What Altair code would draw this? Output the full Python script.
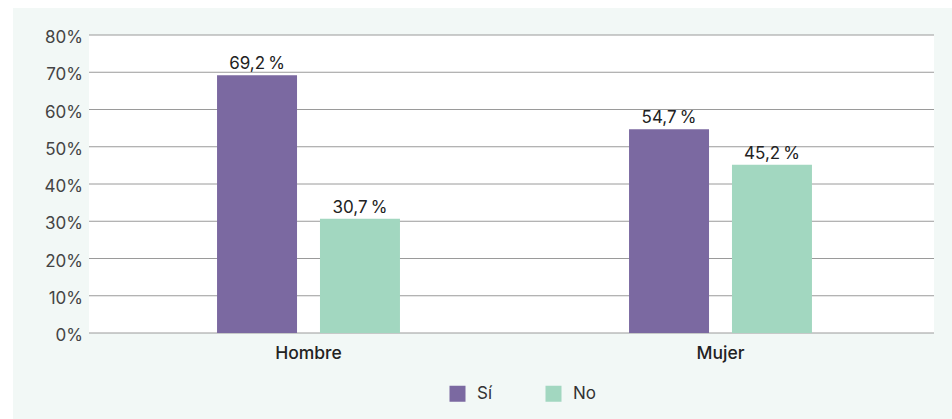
import altair as alt
import pandas as pd

# Respuestas por sexo (porcentaje)
sexos = ["Hombre", "Hombre", "Mujer", "Mujer"]
respuestas = ["Sí", "No", "Sí", "No"]
porcentajes = [69.2, 30.7, 54.7, 45.2]

categorias = ["Hombre", "Mujer"]
opciones = ["Sí", "No"]
colores = ["#7B69A1", "#A2D7C0"]
ticks_y = [0, 10, 20, 30, 40, 50, 60, 70, 80]

df = pd.DataFrame({"sexo": sexos, "respuesta": respuestas, "valor": porcentajes})
# Spanish formatting: decimal comma and a narrow space before the percent sign
df["etiqueta"] = [f"{v:.1f}".replace(".", ",") + "\u202f%" for v in porcentajes]

df_ticks = pd.DataFrame({"valor": ticks_y})
df_ticks["texto"] = [f"{t}%" for t in ticks_y]

FONT = "Inter"
PANEL = "#F2F8F6"
escala_y = alt.Scale(domain=[0, 80], nice=False)

x_enc = alt.X(
    "sexo:N",
    sort=categorias,
    scale=alt.Scale(paddingInner=0.556, paddingOuter=0.3035, align=0.512),
    axis=alt.Axis(
        title=None, labelAngle=0, ticks=False, domain=False, grid=False,
        labelFontSize=17.5, labelFontWeight=500, labelColor="#222222",
        labelPadding=11, labelFont=FONT,
    ),
)
xoff_enc = alt.XOffset(
    "respuesta:N", sort=opciones,
    scale=alt.Scale(paddingInner=0.223, paddingOuter=0),
)

# Horizontal gridlines every 10 %
rejilla = alt.Chart(df_ticks).mark_rule(color="#9A9A9A", strokeWidth=1).encode(
    y=alt.Y("valor:Q", scale=escala_y, axis=None),
    x=alt.value(0),
    x2=alt.value(845),
)

# Y-axis labels
etiquetas_y = alt.Chart(df_ticks).mark_text(
    align="right", baseline="middle", dx=-6, dy=3,
    fontSize=17, font=FONT, color="#444444",
).encode(
    y=alt.Y("valor:Q", scale=escala_y, axis=None),
    x=alt.value(0),
    text="texto:N",
)

barras = alt.Chart(df).mark_bar().encode(
    x=x_enc,
    xOffset=xoff_enc,
    y=alt.Y("valor:Q", scale=escala_y, axis=None),
    color=alt.Color(
        "respuesta:N",
        sort=opciones,
        scale=alt.Scale(domain=opciones, range=colores),
        legend=alt.Legend(
            title=None, orient="none", legendX=360, legendY=350,
            direction="horizontal", symbolType="square", symbolSize=256,
            symbolStrokeWidth=0, labelFontSize=17, labelColor="#333333",
            labelFont=FONT, labelOffset=11, columnPadding=52,
        ),
    ),
)

etiquetas = alt.Chart(df).mark_text(
    baseline="alphabetic", dy=-6, fontSize=17, font=FONT, color="#222222",
).encode(
    x=alt.X("sexo:N", sort=categorias),
    xOffset=alt.XOffset("respuesta:N", sort=opciones),
    y=alt.Y("valor:Q", scale=escala_y, axis=None),
    text="etiqueta:N",
)

# White margin around the tinted panel (left and top edges)
margen = alt.Data(values=[{"k": 1}])
borde_izq = alt.Chart(margen).mark_rect(color="white").encode(
    x=alt.value(-89), x2=alt.value(-76), y=alt.value(-35), y2=alt.value(384)
)
borde_sup = alt.Chart(margen).mark_rect(color="white").encode(
    x=alt.value(-89), x2=alt.value(863), y=alt.value(-35), y2=alt.value(-27)
)

chart = (
    alt.layer(borde_izq, borde_sup, rejilla, etiquetas_y, barras, etiquetas)
    .properties(
        width=845,
        height=298,
        autosize=alt.AutoSizeParams(type="none"),
        padding={"left": 89, "top": 35, "right": 18, "bottom": 86},
        background=PANEL,
    )
    .configure_view(fill="white", stroke=None)
)

chart.save("out.html", embed_options={"renderer": "svg", "actions": False})
